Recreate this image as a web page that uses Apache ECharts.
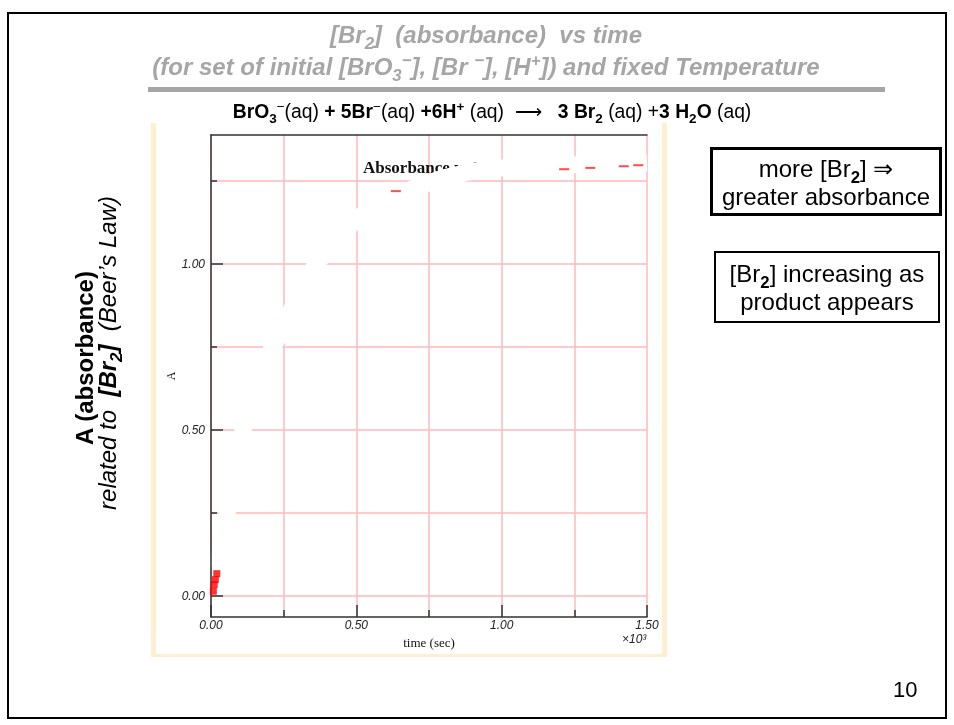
<!DOCTYPE html>
<html><head><meta charset="utf-8">
<script src="https://cdn.jsdelivr.net/npm/echarts@6/dist/echarts.min.js"></script>
<style>
body{margin:0;width:954px;height:725px;overflow:hidden;background:#fff;font-family:'Liberation Sans',Arial,sans-serif;position:relative}
.abs{position:absolute;white-space:nowrap}
#frame{left:7px;top:12px;width:936px;height:703px;border:2px solid #000}
#cream{left:151px;top:123px;width:516px;height:534px;background:#feefd0}
#creamIn{left:156px;top:123px;width:506px;height:531px;background:#fff}
#chart{left:0;top:0;width:954px;height:725px}
.ttl{color:#a6a6a6;font-weight:bold;font-style:italic;font-size:24px;line-height:28px;transform:translateX(-50%)}
#bar{left:148px;top:87px;width:737px;height:5px;background:#a6a6a6}
#eq{left:492px;top:101px;font-size:19.3px;line-height:22px;transform:translateX(-50%);color:#000}
sub,sup{font-size:70%;line-height:0}
.box{border:3px solid #000;text-align:center;font-size:24px;line-height:28px;color:#000;box-sizing:border-box}
.side{font-size:24px;line-height:24px;color:#000;transform:translate(-50%,-50%) rotate(-90deg)}
#pg{left:893px;top:677px;font-size:22px;color:#000}
</style></head>
<body>
<div id="cream" class="abs"></div>
<div id="creamIn" class="abs"></div>
<div id="chart" class="abs"></div>
<div id="frame" class="abs"></div>
<div class="abs ttl" style="left:486px;top:21px">[Br<sub>2</sub>]&nbsp; (absorbance)&nbsp; vs time</div>
<div class="abs ttl" style="left:486px;top:53px">(for set of initial [BrO<sub>3</sub><sup>−</sup>], [Br <sup>−</sup>], [H<sup>+</sup>]) and fixed Temperature</div>
<div id="bar" class="abs"></div>
<div id="eq" class="abs"><b>BrO<sub>3</sub></b><sup>−</sup>(aq) <b>+ 5Br</b><sup>−</sup>(aq) <b>+6H<sup>+</sup></b> (aq) &nbsp;⟶&nbsp;&nbsp; <b>3 Br<sub>2</sub></b> (aq) +<b>3 H<sub>2</sub>O</b> (aq)</div>
<div class="abs box" style="left:710px;top:147px;width:232px;height:69px;padding-top:5px">more [Br<sub><b>2</b></sub>] ⇒<br>greater absorbance</div>
<div class="abs box" style="left:714px;top:251px;width:226px;height:72px;padding-top:7px;border-width:2.5px">[Br<sub><b>2</b></sub>] increasing as<br>product appears</div>
<div class="abs side" style="left:85px;top:358px;font-weight:bold">A (absorbance)</div>
<div class="abs side" style="left:108px;top:353px;font-style:italic">related to&nbsp; <b>[Br<sub>2</sub>]</b>&nbsp; (Beer’s Law)</div>
<div id="pg" class="abs">10</div>
<script>
// data (time in seconds, absorbance)
const timeSec = [20, 27, 34, 42, 50, 60, 75, 90, 110, 130, 150, 175, 200, 225, 250, 275, 300, 330, 360, 400, 450, 500, 550, 600, 650, 700, 750, 800, 850, 900, 950, 1000, 1100, 1200, 1300, 1400, 1500];
const absorb  = [0.085, 0.11, 0.14, 0.18, 0.22, 0.27, 0.34, 0.41, 0.50, 0.57, 0.63, 0.69, 0.73, 0.77, 0.815, 0.86, 0.90, 0.95, 1.00, 1.04, 1.09, 1.135, 1.165, 1.19, 1.21, 1.23, 1.245, 1.26, 1.27, 1.28, 1.285, 1.29, 1.295, 1.298, 1.30, 1.302, 1.305];
const redStartT = [8, 11, 15, 20];
const redStartA = [0.015, 0.035, 0.05, 0.068];
const redEndT = [636, 1215, 1305, 1420, 1470];
const redEndA = [1.22, 1.286, 1.29, 1.295, 1.298];
const xTickLabels = ['0.00', '0.50', '1.00', '1.50'];
const yMajorTicks = [0, 0.5, 1.0];
const yTickLabels = ['0.00', '0.50', '1.00'];
const yMinorTicks = [0.25, 0.75, 1.25];
const yGridLines = [0, 0.25, 0.5, 0.75, 1.0, 1.25];

const pink = '#ffb8b8';
const axisCol = '#333';
const yMin = -0.0625, yMax = 1.389;
const pairs = (a, b) => a.map((v, i) => [v, b[i]]);

const chart = echarts.init(document.getElementById('chart'), null, {renderer: 'canvas'});
chart.setOption({
  animation: false,
  backgroundColor: 'transparent',
  title: {
    text: 'Absorbance vs Time', left: 358, top: 155, z: 0,
    textStyle: {fontFamily: 'Liberation Serif', fontWeight: 'bold', fontSize: 17, color: '#111'}
  },
  grid: {left: 211, top: 135, width: 436, height: 482},
  xAxis: [
    {type: 'value', min: 0, max: 1500, interval: 250, z: 0,
     axisLine: {show: false, onZero: false}, axisTick: {show: false}, axisLabel: {show: false},
     splitLine: {show: true, lineStyle: {color: pink, width: 1.5}}},
    {type: 'value', min: 0, max: 1500, interval: 500, position: 'bottom', z: 3,
     axisLine: {show: true, onZero: false, lineStyle: {color: axisCol, width: 1.5}},
     axisTick: {show: true, inside: true, length: 12, lineStyle: {color: axisCol, width: 1.5}},
     minorTick: {show: true, splitNumber: 2, length: 7, lineStyle: {color: axisCol, width: 1.5}},
     splitLine: {show: false},
     axisLabel: {show: true, margin: 3, fontFamily: 'Liberation Sans', fontStyle: 'italic', fontSize: 12, color: '#222',
       formatter: v => xTickLabels[Math.round(v / 500)]},
     name: 'time (sec)', nameLocation: 'middle', nameGap: 20,
     nameTextStyle: {fontFamily: 'Liberation Serif', fontSize: 13, color: '#111'}},
    {type: 'value', min: 0, max: 1500, position: 'top', z: 3,
     axisLine: {show: true, onZero: false, lineStyle: {color: axisCol, width: 1.5}},
     axisTick: {show: false}, axisLabel: {show: false}, splitLine: {show: false}}
  ],
  yAxis: [
    {type: 'value', min: yMin, max: yMax, z: 0,
     axisLine: {show: false, onZero: false}, axisLabel: {show: false},
     axisTick: {show: false, customValues: yGridLines},
     splitLine: {show: true, lineStyle: {color: pink, width: 1.5}}},
    {type: 'value', min: yMin, max: yMax, z: 3, position: 'left',
     axisLine: {show: true, onZero: false, lineStyle: {color: axisCol, width: 1.5}},
     axisTick: {show: true, inside: true, length: 12, customValues: yMajorTicks, lineStyle: {color: axisCol, width: 1.5}},
     axisLabel: {show: true, customValues: yMajorTicks, margin: 6, fontFamily: 'Liberation Sans', fontStyle: 'italic', fontSize: 12, color: '#222',
       formatter: v => yTickLabels[yMajorTicks.findIndex(t => Math.abs(t - v) < 1e-6)]},
     splitLine: {show: false},
     name: 'A', nameLocation: 'middle', nameGap: 33,
     nameTextStyle: {fontFamily: 'Liberation Serif', fontSize: 12, color: '#111'}},
    {type: 'value', min: yMin, max: yMax, z: 3, position: 'left',
     axisLine: {show: false, onZero: false}, axisLabel: {show: false}, splitLine: {show: false},
     axisTick: {show: true, inside: true, length: 6, customValues: yMinorTicks, lineStyle: {color: axisCol, width: 1.5}}}
  ],
  graphic: [{type: 'text', left: 622, top: 634, z: 5,
    style: {text: '×10³', font: 'italic 12px "Liberation Sans"', fill: '#222'}}],
  series: [
    {type: 'line', xAxisIndex: 0, yAxisIndex: 0, z: 2, silent: true, showSymbol: false,
     data: pairs(timeSec, absorb),
     lineStyle: {color: '#ffffff', width: 17, join: 'round'}},
    {type: 'scatter', xAxisIndex: 0, yAxisIndex: 0, z: 5, silent: true,
     symbol: 'rect', symbolSize: 7, itemStyle: {color: '#ff0000'},
     data: pairs(redStartT, redStartA)},
    {type: 'scatter', xAxisIndex: 0, yAxisIndex: 0, z: 5, silent: true,
     symbol: 'rect', symbolSize: [10, 2], itemStyle: {color: '#ff2020'},
     data: pairs(redEndT, redEndA)}
  ]
});
</script>
</body></html>
